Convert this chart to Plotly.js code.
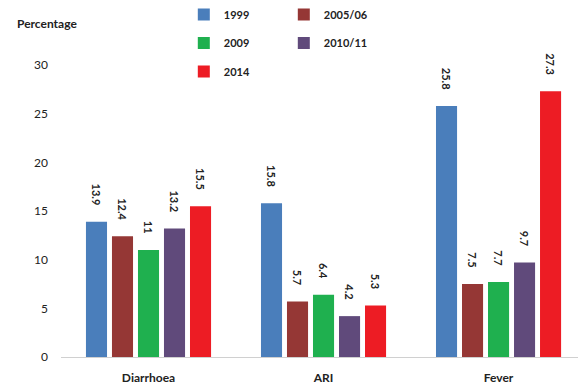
<!DOCTYPE html>
<html>
<head>
<meta charset="utf-8">
<script src="https://cdn.plot.ly/plotly-3.0.1.min.js"></script>
<style>html,body{margin:0;padding:0;background:#fff;}#chart{width:578px;height:388px;}</style>
</head>
<body>
<div id="chart"></div>
<script>
var categories = ["Diarrhoea", "ARI", "Fever"];
var seriesNames = ["1999", "2005/06", "2009", "2010/11", "2014"];
var v1999 = [13.9, 15.8, 25.8];
var v2005 = [12.4, 5.7, 7.5];
var v2009 = [11, 6.4, 7.7];
var v2010 = [13.2, 4.2, 9.7];
var v2014 = [15.5, 5.3, 27.3];
var yTicks = [0, 5, 10, 15, 20, 25, 30];

var values = [v1999, v2005, v2009, v2010, v2014];
var colors = ["#4a7ebb", "#953735", "#1fb04f", "#604a7b", "#ed1c24"];
var legendIds = ["legend", "legend", "legend2", "legend2", "legend3"];
var FONT = "Lato, 'DejaVu Sans', sans-serif";

var traces = values.map(function (vals, i) {
  return {
    type: "bar",
    name: seriesNames[i],
    x: categories,
    y: vals,
    marker: {color: colors[i]},
    text: vals.map(function (v) { return String(v) + "\u00a0\u00a0\u00a0\u00a0\u00a0"; }),
    textposition: "outside",
    textangle: 90,
    constraintext: "none",
    cliponaxis: false,
    textfont: {family: FONT, size: 11, color: "#222", weight: "bold"},
    legend: legendIds[i],
    hoverinfo: "none"
  };
});

var legendBase = {
  orientation: "h",
  xref: "container", yref: "container",
  xanchor: "left", yanchor: "top",
  x: 0.318,
  font: {family: FONT, size: 11, color: "#222", weight: "bold"},
  entrywidth: 55,
  bgcolor: "rgba(0,0,0,0)",
  itemclick: false, itemdoubleclick: false
};

var layout = {
  width: 578, height: 388,
  margin: {l: 61, r: 0, t: 65, b: 31, autoexpand: false},
  paper_bgcolor: "#fff", plot_bgcolor: "#fff",
  barmode: "group",
  bargap: 0.257,
  bargroupgap: 0.19,
  showlegend: true,
  font: {family: FONT, size: 12, color: "#222"},
  legend: Object.assign({}, legendBase, {y: 1.0}),
  legend2: Object.assign({}, legendBase, {y: 1 - 28.5 / 388}),
  legend3: Object.assign({}, legendBase, {y: 1 - 57 / 388}),
  xaxis: {
    type: "category",
    range: [-0.5, 2.454],
    showgrid: false, zeroline: false,
    showline: true, linecolor: "#d0d0d0", linewidth: 1,
    ticks: "",
    ticklabelstandoff: 10,
    tickfont: {family: FONT, size: 12, color: "#222", weight: "bold"},
    fixedrange: true
  },
  yaxis: {
    range: [0, 30],
    tickvals: yTicks,
    ticktext: yTicks.map(String),
    showgrid: false, zeroline: false, showline: false,
    ticks: "",
    ticklabelstandoff: 12,
    tickfont: {family: FONT, size: 12, color: "#222"},
    fixedrange: true
  },
  annotations: [{
    text: "Percentage",
    xref: "paper", yref: "paper",
    x: -46 / 517, y: 334 / 292,
    xanchor: "left", yanchor: "middle",
    showarrow: false,
    font: {family: FONT, size: 12, color: "#222", weight: "bold"}
  }]
};

Plotly.newPlot("chart", traces, layout, {staticPlot: true, displayModeBar: false});
</script>
</body>
</html>
